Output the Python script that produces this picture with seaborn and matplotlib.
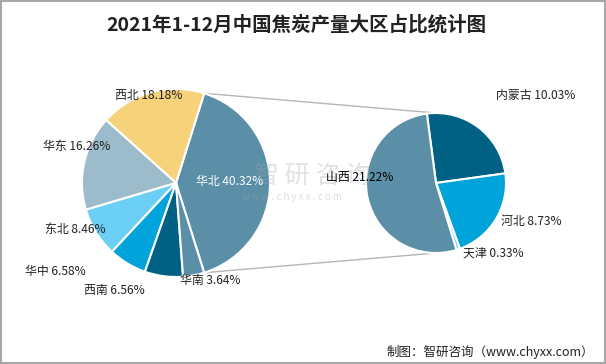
import numpy as np
import matplotlib
matplotlib.use("Agg")
import matplotlib.pyplot as plt
from matplotlib.patches import Rectangle
import seaborn as sns

# 大区占比
regions = ['华北', '西北', '华东', '东北', '华中', '西南', '华南']
region_share = [40.32, 18.18, 16.26, 8.46, 6.58, 6.56, 3.64]
# 华北拆分
north = ['内蒙古', '河北', '天津', '山西']
north_share = [10.03, 8.73, 0.33, 21.22]

region_colors = ['#5b8fa8', '#f6d27a', '#9dbccb', '#6ccff6', '#00a3da', '#006185', '#5b8fa8']
north_colors = ['#006185', '#00a3da', '#6ccff6', '#5b8fa8']

# 标签位置 (像素, y 从上往下)
region_label_xy = [(230, 182), (149, 96), (77, 146), (75, 229), (55, 272), (114, 290), (210, 280)]
north_label_xy = [(536, 95), (531, 221), (493, 253), (360, 178)]

sns.set_theme(style='white')
plt.rcParams['font.family'] = ['Noto Sans CJK SC', 'DejaVu Sans']

W, H = 606, 364
fig = plt.figure(figsize=(W / 100, H / 100), dpi=100)
ax = fig.add_axes([0, 0, 1, 1])

lc, lr = (176, H - 183), 94
rc, rr = (436, H - 183), 70

start_l = -region_share[0] / 100 * 360 / 2
wl, tl = ax.pie(region_share, labels=[f'{n} {v:.2f}%' for n, v in zip(regions, region_share)],
                colors=region_colors, center=lc, radius=lr, startangle=start_l,
                wedgeprops=dict(edgecolor='white', linewidth=1.5),
                textprops=dict(fontsize=8.6, color='#222222'), frame=True)
for t, (x, y) in zip(tl, region_label_xy):
    t.set_position((x, H - y))
    t.set_ha('center')
    t.set_va('center')
    t.set_zorder(6)
tl[0].set_color('white')

wr, tr = ax.pie(north_share, labels=[f'{n} {v:.2f}%' for n, v in zip(north, north_share)],
                colors=north_colors, center=rc, radius=rr, startangle=97.5,
                counterclock=False,
                wedgeprops=dict(edgecolor='white', linewidth=1.5),
                textprops=dict(fontsize=8.6, color='#222222'), frame=True)
for t, (x, y) in zip(tr, north_label_xy):
    t.set_position((x, H - y))
    t.set_ha('center')
    t.set_va('center')
    t.set_zorder(6)
tr[3].set_color('black')

ax.set_xlim(0, W)
ax.set_ylim(0, H)
ax.set_aspect('equal')
ax.axis('off')

# 连接线
a = np.deg2rad(start_l)
p_top = (lc[0] + lr * np.cos(-a), lc[1] + lr * np.sin(-a))
p_bot = (lc[0] + lr * np.cos(a), lc[1] + lr * np.sin(a))
ax.plot([p_top[0], rc[0]], [p_top[1], rc[1] + rr], color='#b5b5b5', lw=1, zorder=0)
ax.plot([p_bot[0], rc[0]], [p_bot[1], rc[1] - rr], color='#b5b5b5', lw=1, zorder=0)

# 水印
ax.text(312, H - 176, '智 研 咨 询', fontsize=18, color='#9aa3ab', alpha=0.3,
        ha='center', va='center', zorder=5)
ax.text(292, H - 197, 'w w w . c h y x x . c o m', fontsize=7, color='#9aa3ab', alpha=0.35,
        ha='center', va='center', zorder=5)

fig.text(296 / W, 1 - 25 / H, '2021年1-12月中国焦炭产量大区占比统计图', ha='center', va='center',
         fontsize=14, fontweight='bold', color='#222222')
fig.text(1 - 12 / W, 1 - 352 / H, '制图：智研咨询（www.chyxx.com）', ha='right', va='center',
         fontsize=9, color='#222222')

fig.patches.append(Rectangle((0.002, 0.003), 0.996, 0.994, transform=fig.transFigure,
                             fill=False, edgecolor='#a6a6a6', linewidth=1.5))

fig.savefig('out.png', dpi=100)
